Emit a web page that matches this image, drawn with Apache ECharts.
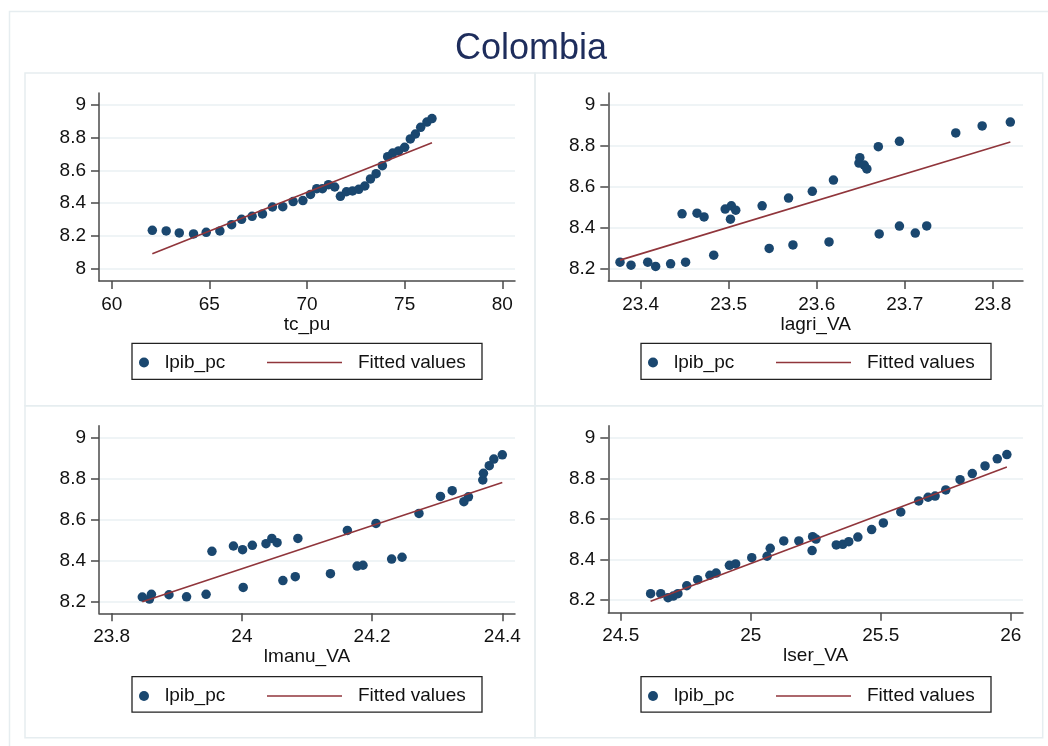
<!DOCTYPE html>
<html>
<head>
<meta charset="utf-8">
<script src="https://cdn.jsdelivr.net/npm/echarts/dist/echarts.min.js"></script>
<style>
html,body{margin:0;padding:0;background:#fff;}
#chart{width:1048px;height:746px;}
</style>
</head>
<body>
<div id="chart"></div>
<script>
// ---- data ----
var titleText = 'Colombia';
var scatterName = 'lpib_pc';
var fitName = 'Fitted values';

var p1X = [62.08,62.79,63.46,64.19,64.84,65.54,66.14,66.65,67.19,67.72,68.23,68.76,69.29,69.79,70.18,70.50,70.79,71.10,71.42,71.71,72.02,72.33,72.65,72.96,73.25,73.54,73.86,74.13,74.39,74.69,75.00,75.29,75.55,75.82,76.14,76.40];
var p1Y = [8.234,8.230,8.218,8.212,8.222,8.230,8.268,8.301,8.319,8.334,8.376,8.378,8.409,8.415,8.453,8.488,8.488,8.512,8.498,8.441,8.469,8.474,8.484,8.504,8.547,8.579,8.628,8.683,8.705,8.718,8.740,8.791,8.821,8.862,8.894,8.915];
var fit1X = [62.08, 76.40];
var fit1Y = [8.091, 8.768];

var p2X = [23.3765,23.389,23.408,23.417,23.434,23.451,23.447,23.464,23.472,23.483,23.496,23.503,23.508,23.502,23.538,23.546,23.568,23.573,23.595,23.614,23.619,23.648,23.649,23.654,23.657,23.670,23.671,23.694,23.694,23.712,23.725,23.758,23.788,23.820];
var p2Y = [8.231,8.216,8.231,8.210,8.223,8.231,8.467,8.470,8.452,8.265,8.490,8.506,8.485,8.441,8.506,8.298,8.544,8.315,8.577,8.330,8.632,8.715,8.741,8.705,8.686,8.795,8.369,8.407,8.821,8.373,8.408,8.862,8.896,8.915];
var fit2X = [23.3765, 23.820];
var fit2Y = [8.241, 8.818];

var p3X = [23.847,23.858,23.861,23.888,23.915,23.945,23.954,23.987,24.001,24.002,24.016,24.037,24.046,24.054,24.063,24.082,24.086,24.136,24.162,24.177,24.186,24.206,24.230,24.246,24.272,24.305,24.323,24.341,24.348,24.370,24.371,24.380,24.387,24.400];
var p3Y = [8.221,8.211,8.234,8.232,8.222,8.234,8.444,8.470,8.452,8.268,8.473,8.481,8.507,8.486,8.301,8.320,8.507,8.335,8.546,8.372,8.376,8.580,8.406,8.415,8.629,8.712,8.740,8.686,8.710,8.792,8.825,8.862,8.894,8.915];
var fit3X = [23.847, 24.400];
var fit3Y = [8.198, 8.780];

var p4X = [24.615,24.654,24.682,24.702,24.720,24.754,24.796,24.843,24.867,24.918,24.942,25.004,25.063,25.075,25.127,25.185,25.236,25.238,25.251,25.329,25.354,25.377,25.412,25.465,25.510,25.577,25.646,25.682,25.709,25.750,25.805,25.852,25.901,25.948,25.985];
var p4Y = [8.230,8.230,8.210,8.218,8.230,8.269,8.299,8.321,8.332,8.370,8.377,8.408,8.415,8.454,8.491,8.491,8.443,8.512,8.500,8.471,8.474,8.487,8.510,8.547,8.580,8.634,8.689,8.707,8.713,8.743,8.794,8.824,8.862,8.897,8.918];
var fit4X = [24.615, 25.985];
var fit4Y = [8.192, 8.857];

var xNames = ['tc_pu', 'lagri_VA', 'lmanu_VA', 'lser_VA'];
var xTicks1 = [60, 65, 70, 75, 80];
var xTicks2 = [23.4, 23.5, 23.6, 23.7, 23.8];
var xTicks3 = [23.8, 24, 24.2, 24.4];
var xTicks4 = [24.5, 25, 25.5, 26];
var yTicks1 = [8, 8.2, 8.4, 8.6, 8.8, 9];
var yTicks2 = [8.2, 8.4, 8.6, 8.8, 9];

// ---- layout / styles ----
var FONT = "'Liberation Sans', Arial, Helvetica, sans-serif";
var NAVY = '#1a476f';
var MAROON = '#90353b';
var AXIS = '#4a4a4a';
var GRIDC = '#eaf0f3';
var BORDER = '#e6edf0';

function zip(xs, ys) { return xs.map(function (x, i) { return [x, ys[i]]; }); }
function fmt(v) { return String(+(+v).toFixed(3)); }

var panels = [
  { sx: p1X, sy: p1Y, fx: fit1X, fy: fit1Y, xt: xTicks1, yt: yTicks1, name: xNames[0],
    grid: { left: 99, top: 93, width: 416, height: 188 }, xr: [59.35, 80.65], yr: [7.925, 9.071], lg: [139, 267, 353] },
  { sx: p2X, sy: p2Y, fx: fit2X, fy: fit2Y, xt: xTicks2, yt: yTicks2, name: xNames[1],
    grid: { left: 608.3, top: 93, width: 414.7, height: 188 }, xr: [23.3632, 23.8344], yr: [8.139, 9.057], lg: [648, 776, 353] },
  { sx: p3X, sy: p3Y, fx: fit3X, fy: fit3Y, xt: xTicks3, yt: yTicks2, name: xNames[2],
    grid: { left: 99, top: 425.7, width: 416, height: 187.6 }, xr: [23.7805, 24.4195], yr: [8.1415, 9.057], lg: [139, 267, 686.5] },
  { sx: p4X, sy: p4Y, fx: fit4X, fy: fit4Y, xt: xTicks4, yt: yTicks2, name: xNames[3],
    grid: { left: 608.3, top: 425.7, width: 414.7, height: 187 }, xr: [24.4523, 26.047], yr: [8.1357, 9.061], lg: [648, 776, 686.5] }
];

var grids = [], xAxes = [], yAxes = [], series = [], legends = [];
var lineStyleAxis = { color: AXIS, width: 1.5 };

panels.forEach(function (p, i) {
  grids.push(Object.assign({ containLabel: false }, p.grid));
  xAxes.push({
    type: 'value', gridIndex: i, min: p.xr[0], max: p.xr[1],
    name: p.name, nameLocation: 'middle', nameGap: 32,
    nameTextStyle: { fontFamily: FONT, fontSize: 19, color: '#111' },
    axisLine: { show: true, onZero: false, lineStyle: lineStyleAxis },
    axisTick: { show: true, length: 8, customValues: p.xt, lineStyle: lineStyleAxis },
    axisLabel: { show: true, customValues: p.xt, margin: 14, fontFamily: FONT, fontSize: 19, color: '#111', formatter: fmt },
    splitLine: { show: false }
  });
  yAxes.push({
    type: 'value', gridIndex: i, min: p.yr[0], max: p.yr[1],
    axisLine: { show: true, onZero: false, lineStyle: lineStyleAxis },
    axisTick: { show: true, length: 8, customValues: p.yt, lineStyle: lineStyleAxis },
    axisLabel: { show: true, customValues: p.yt, margin: 13, fontFamily: FONT, fontSize: 19, color: '#111', formatter: fmt },
    splitLine: { show: true, lineStyle: { color: GRIDC, width: 1.5 } }
  });
  series.push({
    type: 'scatter', name: scatterName, xAxisIndex: i, yAxisIndex: i,
    data: zip(p.sx, p.sy), symbol: 'circle', symbolSize: 9.5,
    itemStyle: { color: NAVY, opacity: 1 }, z: 2
  });
  series.push({
    type: 'line', name: fitName, xAxisIndex: i, yAxisIndex: i,
    data: zip(p.fx, p.fy), symbol: 'none', showSymbol: false,
    lineStyle: { color: MAROON, width: 1.6 }, itemStyle: { color: MAROON }, z: 3
  });
  var ts = { fontFamily: FONT, fontSize: 19, color: '#111', padding: [0, 0, 0, 11] };
  legends.push({
    data: [{ name: scatterName, icon: 'circle' }], left: p.lg[0], top: p.lg[2], padding: 0, selectedMode: false,
    itemWidth: 10, itemHeight: 10, textStyle: ts
  });
  legends.push({
    data: [{ name: fitName, icon: 'rect', itemStyle: { color: MAROON } }], left: p.lg[1], top: p.lg[2], padding: 0, selectedMode: false,
    itemWidth: 75, itemHeight: 1.6, textStyle: ts
  });
});

var graphics = [
  { type: 'rect', silent: true, z: -10, shape: { x: 9.5, y: 11.5, width: 1100, height: 800 }, style: { fill: 'none', stroke: BORDER, lineWidth: 1.5 } },
  { type: 'rect', silent: true, z: -10, shape: { x: 25, y: 73, width: 510, height: 332.7 }, style: { fill: 'none', stroke: BORDER, lineWidth: 1.5 } },
  { type: 'rect', silent: true, z: -10, shape: { x: 535, y: 73, width: 507.7, height: 332.7 }, style: { fill: 'none', stroke: BORDER, lineWidth: 1.5 } },
  { type: 'rect', silent: true, z: -10, shape: { x: 25, y: 405.7, width: 510, height: 332 }, style: { fill: 'none', stroke: BORDER, lineWidth: 1.5 } },
  { type: 'rect', silent: true, z: -10, shape: { x: 535, y: 405.7, width: 507.7, height: 332 }, style: { fill: 'none', stroke: BORDER, lineWidth: 1.5 } },
  { type: 'rect', silent: true, shape: { x: 132, y: 343.3, width: 350, height: 36 }, style: { fill: 'none', stroke: '#222', lineWidth: 1.3 } },
  { type: 'rect', silent: true, shape: { x: 641, y: 343.3, width: 350, height: 36 }, style: { fill: 'none', stroke: '#222', lineWidth: 1.3 } },
  { type: 'rect', silent: true, shape: { x: 132, y: 676.7, width: 350, height: 35.5 }, style: { fill: 'none', stroke: '#222', lineWidth: 1.3 } },
  { type: 'rect', silent: true, shape: { x: 641, y: 676.7, width: 350, height: 35.5 }, style: { fill: 'none', stroke: '#222', lineWidth: 1.3 } }
];

var chart = echarts.init(document.getElementById('chart'), null, { renderer: 'canvas' });
chart.setOption({
  animation: false,
  backgroundColor: '#fff',
  title: {
    text: titleText, left: 531, top: 31, textAlign: 'center', padding: 0,
    textStyle: { fontFamily: FONT, fontSize: 36, fontWeight: 'normal', color: '#1e2d5c' }
  },
  grid: grids, xAxis: xAxes, yAxis: yAxes, series: series, legend: legends,
  graphic: graphics
});
</script>
</body>
</html>
